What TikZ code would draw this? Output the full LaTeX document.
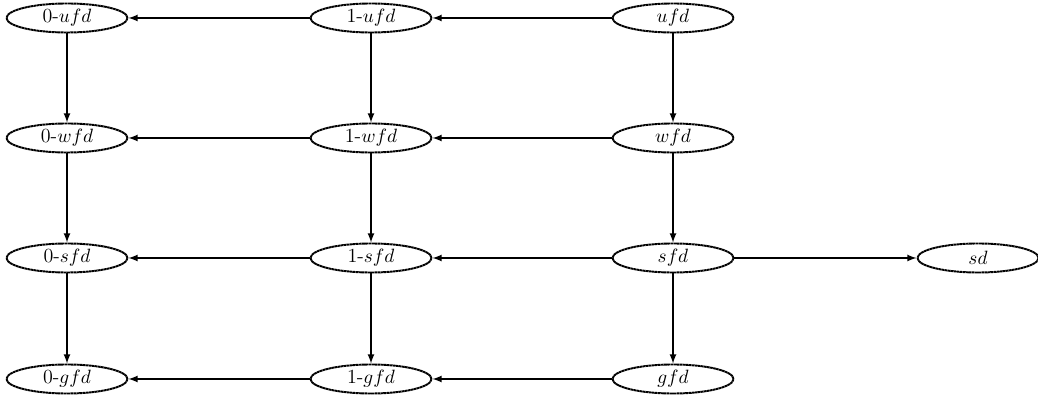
\documentclass[tikz,border=0pt]{standalone}
\usepackage{tikz}
\usetikzlibrary{arrows,calc}
\usetikzlibrary{shapes.geometric,positioning}

\begin{document}
\begin{tikzpicture}[
  state/.style={ellipse,draw,line width=1.1pt,
    dash pattern=on 1.5pt off 0.25pt,
    font=\fontsize{11.4}{14}\selectfont,
    minimum width=2.42cm,minimum height=0.58cm,inner sep=0pt},
  link/.style={-latex,line width=0.8pt}]
% fix the margins
\useasboundingbox (0,0) rectangle (20.76,8.06);

% top row
\node[state] (u0) at (1.34,7.7) {0-$ufd$};
\node[state] (u1) at (7.42,7.7) {1-$ufd$};
\node[state] (u) at (13.46,7.7) {$ufd$};

% second row
\node[state] (w0) at (1.34,5.3) {0-$wfd$};
\node[state] (w1) at (7.42,5.3) {1-$wfd$};
\node[state] (w) at (13.46,5.3) {$wfd$};

% third row
\node[state] (s0) at (1.34,2.9) {0-$sfd$};
\node[state] (s1) at (7.42,2.9) {1-$sfd$};
\node[state] (s) at (13.46,2.9) {$sfd$};
\node[state] (sd) at (19.56,2.9) {$sd$};

% bottom row
\node[state] (g0) at (1.34,0.48) {0-$gfd$};
\node[state] (g1) at (7.42,0.48) {1-$gfd$};
\node[state] (g) at (13.46,0.48) {$gfd$};

% horizontal links
\draw[link] (u) -- (u1);
\draw[link] (u1) -- (u0);
\draw[link] (w) -- (w1);
\draw[link] (w1) -- (w0);
\draw[link] (s) -- (s1);
\draw[link] (s1) -- (s0);
\draw[link] (s) -- (sd);
\draw[link] (g) -- (g1);
\draw[link] (g1) -- (g0);

% vertical links
\draw[link] (u0) -- (w0);
\draw[link] (w0) -- (s0);
\draw[link] (s0) -- (g0);
\draw[link] (u1) -- (w1);
\draw[link] (w1) -- (s1);
\draw[link] (s1) -- (g1);
\draw[link] (u) -- (w);
\draw[link] (w) -- (s);
\draw[link] (s) -- (g);
\end{tikzpicture}
\end{document}
